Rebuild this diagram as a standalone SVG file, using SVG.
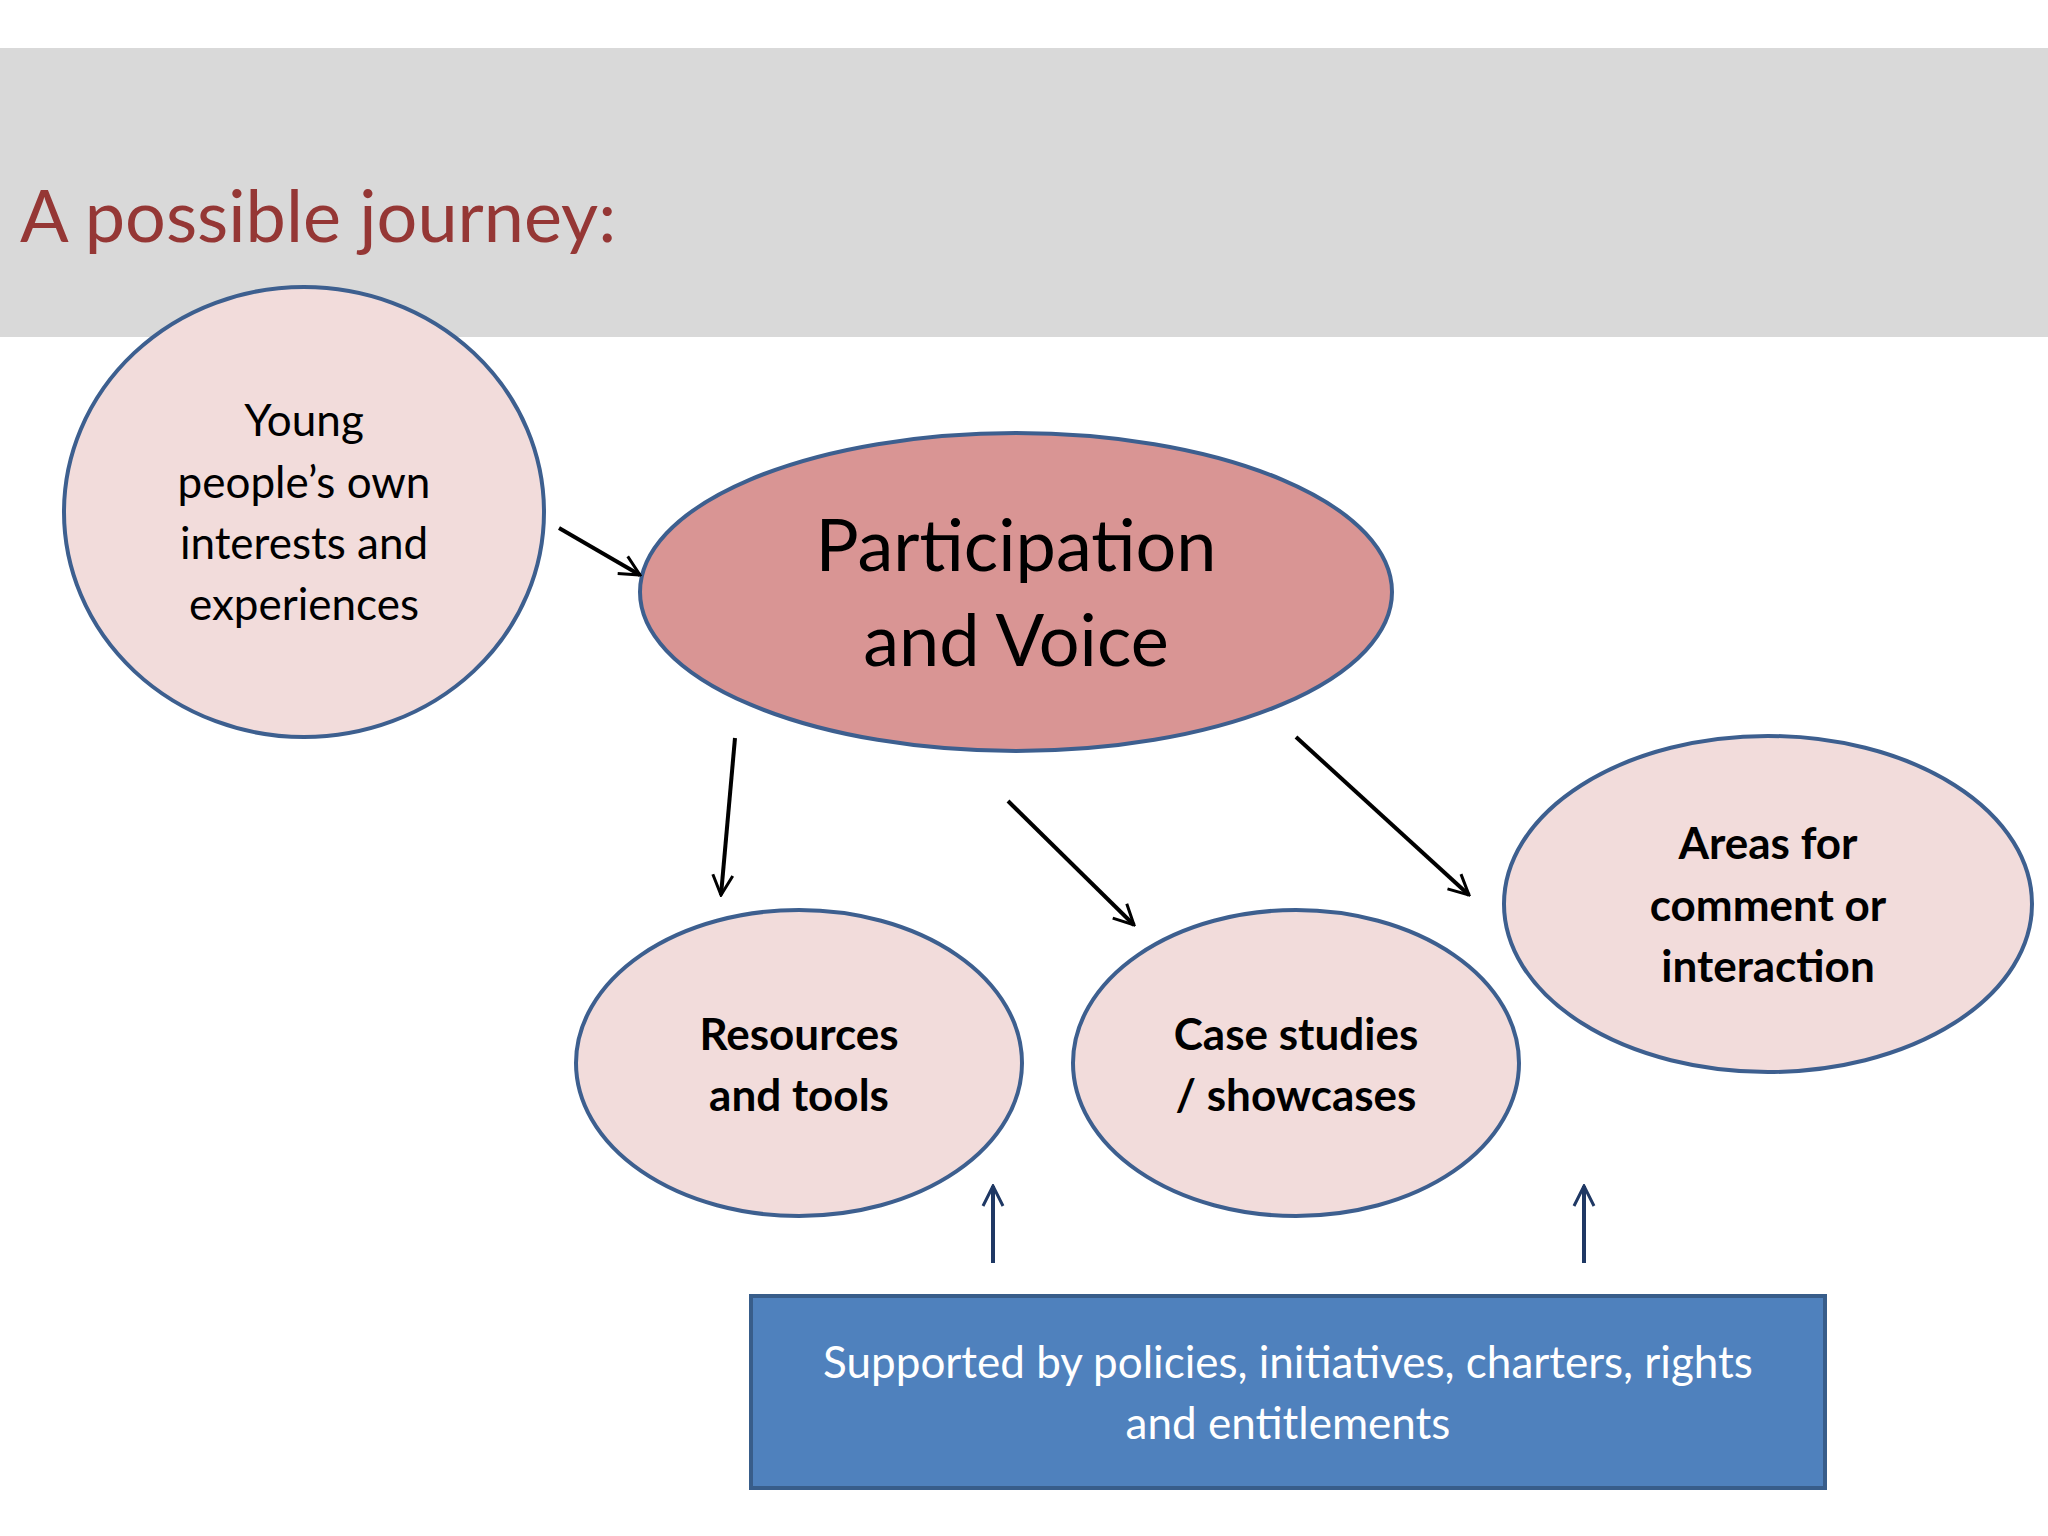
<svg xmlns="http://www.w3.org/2000/svg" width="2048" height="1536" viewBox="0 0 2048 1536">
<defs>
<style>
text{font-family:Lato,"Open Sans","Liberation Sans",sans-serif;text-anchor:middle;}
.n{fill:#f2dcdb;stroke:#3d5f8f;stroke-width:4}
.t{font-size:44px;fill:#000}
.b{font-weight:bold}
.a{stroke:#000;stroke-width:4;fill:none;marker-end:url(#ah)}
.u{stroke:#1f3864;stroke-width:4;fill:none;marker-end:url(#ub)}
</style>
<marker id="ah" viewBox="0 0 12 12" refX="11" refY="6" markerWidth="6" markerHeight="6" markerUnits="strokeWidth" orient="auto"><path d="M1,1 L11,6 L1,11" fill="none" stroke="#000" stroke-width="1.5"/></marker>
<marker id="ub" viewBox="0 0 12 12" refX="11" refY="6" markerWidth="6" markerHeight="6" markerUnits="strokeWidth" orient="auto"><path d="M1,1 L11,6 L1,11" fill="none" stroke="#1f3864" stroke-width="1.5"/></marker>
</defs>
<rect width="2048" height="1536" fill="#fff"/>
<rect x="0" y="48" width="2048" height="289" fill="#d9d9d9"/>
<text x="20" y="242" style="text-anchor:start;font-size:72px;fill:#953735">A possible journey:</text>
<g id="young">
<ellipse class="n" cx="304" cy="512" rx="240" ry="225"/>
<text class="t" x="304" y="436">Young</text>
<text class="t" x="304" y="498">people’s own</text>
<text class="t" x="304" y="559">interests and</text>
<text class="t" x="304" y="620">experiences</text>
</g>
<g id="participation">
<ellipse cx="1016" cy="592" rx="376" ry="159" fill="#d99594" stroke="#3d5f8f" stroke-width="4"/>
<text x="1016" y="571" style="font-size:72px">Participation</text>
<text x="1016" y="666" style="font-size:72px">and Voice</text>
</g>
<g id="resources">
<ellipse class="n" cx="799" cy="1063" rx="223" ry="153"/>
<text class="t b" x="799" y="1050">Resources</text>
<text class="t b" x="799" y="1111">and tools</text>
</g>
<g id="cases">
<ellipse class="n" cx="1296" cy="1063" rx="223" ry="153"/>
<text class="t b" x="1296" y="1050">Case studies</text>
<text class="t b" x="1296" y="1111">/ showcases</text>
</g>
<g id="areas">
<ellipse class="n" cx="1768" cy="904" rx="264" ry="168"/>
<text class="t b" x="1768" y="859">Areas for</text>
<text class="t b" x="1768" y="921">comment or</text>
<text class="t b" x="1768" y="982">interaction</text>
</g>
<g id="supported">
<rect x="751" y="1296" width="1074" height="192" fill="#4f81bd" stroke="#385d8a" stroke-width="4"/>
<text x="1288" y="1378" style="font-size:44px;fill:#fff">Supported by policies, initiatives, charters, rights</text>
<text x="1288" y="1439" style="font-size:44px;fill:#fff">and entitlements</text>
</g>
<g id="connectors">
<line class="a" x1="559" y1="528" x2="640" y2="575"/>
<line class="a" x1="735" y1="738" x2="721" y2="895"/>
<line class="a" x1="1008" y1="801" x2="1134" y2="925"/>
<line class="a" x1="1296" y1="737" x2="1469" y2="895"/>
<line class="u" x1="993" y1="1263" x2="993" y2="1186"/>
<line class="u" x1="1584" y1="1263" x2="1584" y2="1186"/>
</g>
</svg>
